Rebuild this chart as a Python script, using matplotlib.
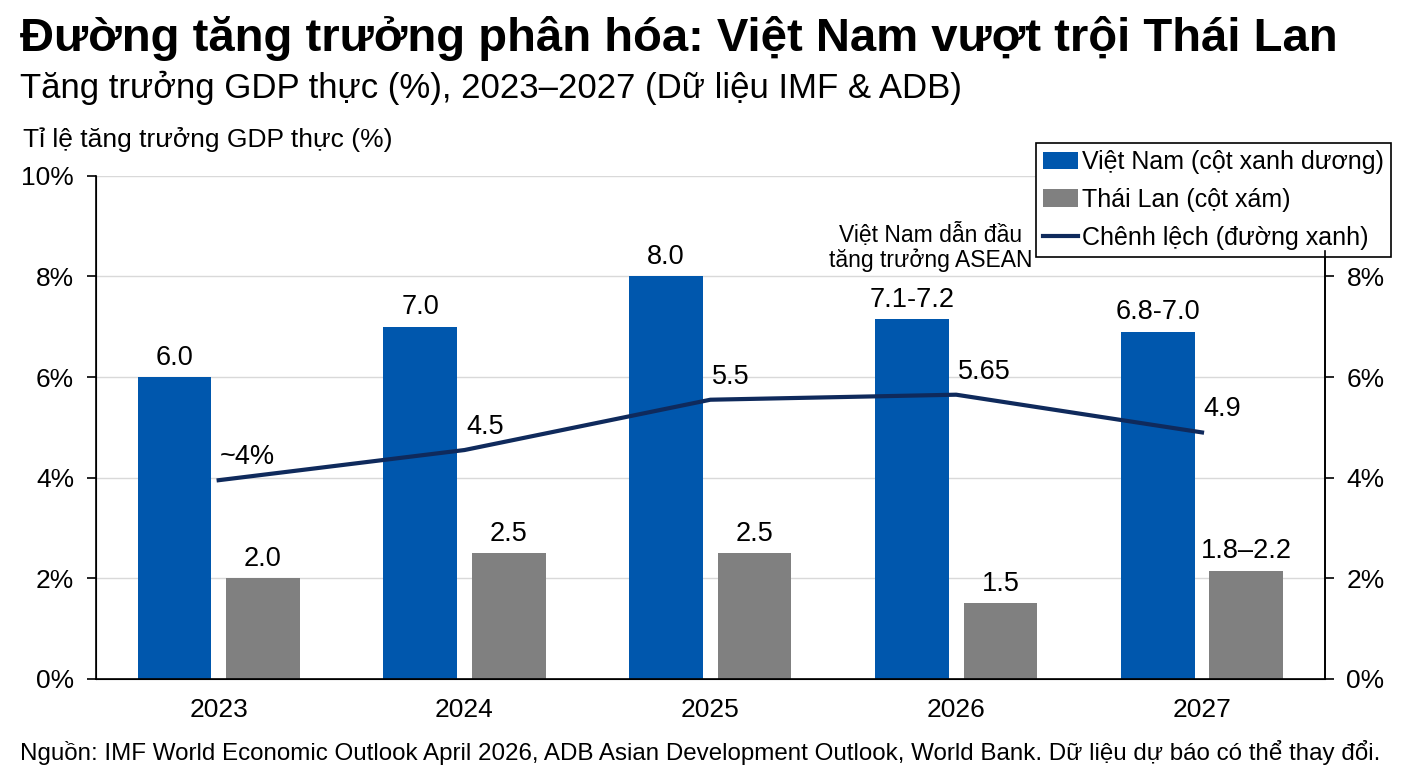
import numpy as np
import matplotlib
matplotlib.use("Agg")
import matplotlib.pyplot as plt

plt.rcParams['font.family'] = ['Liberation Sans', 'DejaVu Sans']

years = ["2023", "2024", "2025", "2026", "2027"]
vn_growth = [6.0, 7.0, 8.0, 7.15, 6.9]
vn_labels = ["6.0", "7.0", "8.0", "7.1-7.2", "6.8-7.0"]
th_growth = [2.0, 2.5, 2.5, 1.5, 2.15]
th_labels = ["2.0", "2.5", "2.5", "1.5", "1.8–2.2"]
gap = [3.95, 4.55, 5.55, 5.65, 4.9]
gap_labels = ["~4%", "4.5", "5.5", "5.65", "4.9"]

blue = "#0057AD"
grey = "#808080"
navy = "#0F2A5C"

fig = plt.figure(figsize=(14.08, 7.68), dpi=100)
ax = fig.add_axes([0.068, 0.116, 0.873, 0.655])

x = np.arange(len(years))
w = 0.3
b1 = ax.bar(x - 0.18, vn_growth, w, color=blue, label="Việt Nam (cột xanh dương)", zorder=2)
b2 = ax.bar(x + 0.18, th_growth, w, color=grey, label="Thái Lan (cột xám)", zorder=2)
ln, = ax.plot(x, gap, color=navy, lw=3, label="Chênh lệch (đường xanh)", zorder=3)

# value labels
for xi, v, t in zip(x, vn_growth, vn_labels):
    ax.annotate(t, (xi - 0.18, v), xytext=(0, 9), textcoords="offset points",
                ha="center", va="baseline", fontsize=19.5)
for xi, v, t in zip(x, th_growth, th_labels):
    ax.annotate(t, (xi + 0.18, v), xytext=(0, 9), textcoords="offset points",
                ha="center", va="baseline", fontsize=19.5)
for xi, v, t in zip(x, gap, gap_labels):
    ax.annotate(t, (xi, v), xytext=(1, 11.5), textcoords="offset points",
                ha="left", va="baseline", fontsize=19.5)

ax.text(3 - 0.105, 8.09, "Việt Nam dẫn đầu\ntăng trưởng ASEAN", ha="center", va="bottom",
        fontsize=16.5, linespacing=1.1)

ax.set_xlim(-0.5, 4.5)
ax.set_ylim(0, 10)
ax.set_xticks(x)
ax.set_xticklabels(years, fontsize=19)
ax.set_yticks(np.arange(0, 11, 2))
ax.set_yticklabels([f"{v}%" for v in range(0, 11, 2)], fontsize=19)
ax.tick_params(axis="x", length=0, pad=14)
ax.tick_params(axis="y", length=6.5, width=1.2, pad=9)
ax.grid(axis="y", color="#d9d9d9", lw=1, zorder=0)
ax.spines["top"].set_visible(False)
for s in ["left", "bottom", "right"]:
    ax.spines[s].set_linewidth(1.2)

ax2 = ax.twinx()
ax2.set_ylim(0, 10)
ax2.set_yticks(np.arange(0, 9, 2))
ax2.set_yticklabels([f"{v}%" for v in range(0, 9, 2)], fontsize=19)
ax2.tick_params(axis="y", length=6.5, width=1.2, pad=9)
ax2.spines["top"].set_visible(False)
ax2.spines["right"].set_bounds(0, 8.5)
ax2.spines["right"].set_linewidth(1.2)

leg = ax.legend(handles=[b1, b2, ln], loc="upper right", bbox_to_anchor=(1.054, 1.066),
                fontsize=18, frameon=True, fancybox=False, edgecolor="black",
                handlelength=1.4, handletextpad=0.15, borderpad=0.3, labelspacing=0.55,
                borderaxespad=0, framealpha=1)
leg.get_frame().set_linewidth(1.2)
leg.set_zorder(10)

fig.text(0.014, 0.9336, "Đường tăng trưởng phân hóa: Việt Nam vượt trội Thái Lan",
         fontsize=34, fontweight="bold", va="baseline")
fig.text(0.014, 0.8724, "Tăng trưởng GDP thực (%), 2023–2027 (Dữ liệu IMF & ADB)",
         fontsize=25, va="baseline")
fig.text(0.016, 0.8086, "Tỉ lệ tăng trưởng GDP thực (%)", fontsize=19, va="baseline")
fig.text(0.014, 0.0104, "Nguồn: IMF World Economic Outlook April 2026, ADB Asian Development Outlook, "
         "World Bank. Dữ liệu dự báo có thể thay đổi.", fontsize=17.4, va="baseline")

fig.savefig("out.png", dpi=100)
